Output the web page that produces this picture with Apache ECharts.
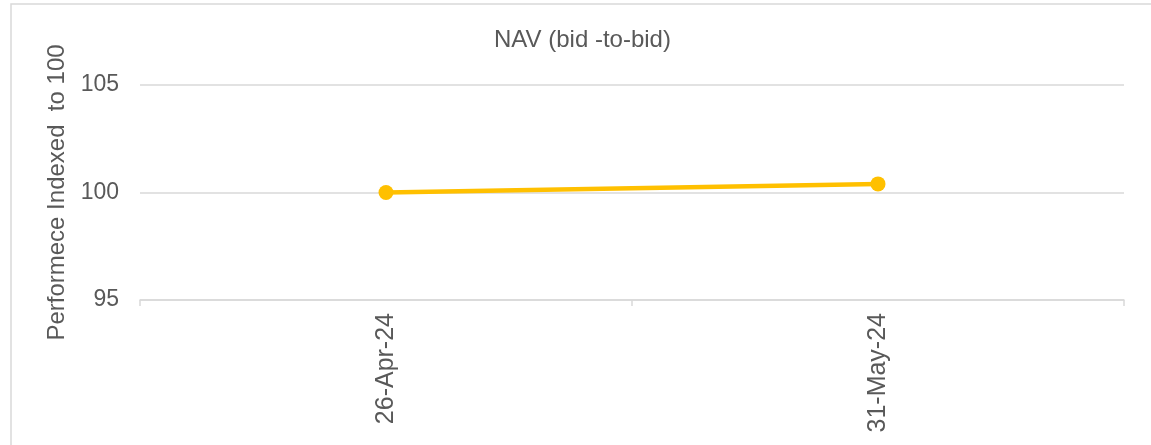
<!DOCTYPE html>
<html>
<head>
<meta charset="utf-8">
<script src="https://cdn.jsdelivr.net/npm/echarts@6/dist/echarts.min.js"></script>
<style>
html,body{margin:0;padding:0;background:#fff;}
#chart{width:1151px;height:445px;}
</style>
</head>
<body>
<div id="chart"></div>
<script>
const categories = ['26-Apr-24', '31-May-24'];
const navValues = [100, 100.4];
const yTicks = [95, 100, 105];
const titleText = 'NAV (bid -to-bid)';
const yAxisName = 'Performece Indexed  to 100';

const chart = echarts.init(document.getElementById('chart'), null, {renderer: 'canvas'});
const textColor = '#595959';
const fontFamily = '"Liberation Sans", Arial, sans-serif';
chart.setOption({
  animation: false,
  backgroundColor: '#ffffff',
  title: {
    text: titleText,
    left: 494,
    top: 28,
    padding: 0,
    textStyle: {color: textColor, fontSize: 24, fontWeight: 'normal', fontFamily: fontFamily}
  },
  graphic: [{
    type: 'rect',
    shape: {x: 11, y: 4, width: 1200, height: 500},
    style: {fill: 'none', stroke: '#d9d9d9', lineWidth: 1.5},
    silent: true
  }],
  grid: {left: 140, right: 27, top: 85, bottom: 145, containLabel: false},
  xAxis: {
    type: 'category',
    data: categories,
    boundaryGap: true,
    axisLine: {show: true, lineStyle: {color: '#d9d9d9', width: 1.5}},
    axisTick: {show: true, length: 6, lineStyle: {color: '#d9d9d9', width: 1.5}},
    axisLabel: {rotate: 90, color: textColor, fontSize: 25, fontFamily: fontFamily, margin: 13},
    splitLine: {show: false}
  },
  yAxis: {
    type: 'value',
    min: yTicks[0],
    max: yTicks[yTicks.length - 1],
    interval: yTicks[1] - yTicks[0],
    name: yAxisName,
    nameLocation: 'middle',
    nameGap: 62,
    nameTextStyle: {color: textColor, fontSize: 24, fontFamily: fontFamily},
    axisLine: {show: false},
    axisTick: {show: false},
    axisLabel: {color: textColor, fontSize: 23, fontFamily: fontFamily, margin: 21},
    splitLine: {show: true, lineStyle: {color: '#d9d9d9', width: 1.5}}
  },
  series: [{
    type: 'line',
    data: navValues,
    symbol: 'circle',
    symbolSize: 15,
    lineStyle: {color: '#FFC000', width: 4.5},
    itemStyle: {color: '#FFC000'}
  }]
});
</script>
</body>
</html>
